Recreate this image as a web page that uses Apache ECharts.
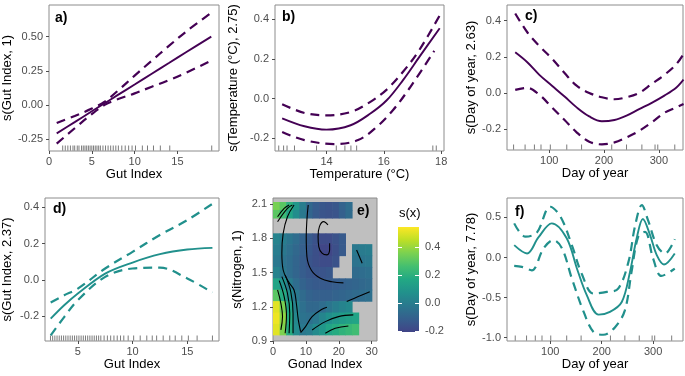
<!DOCTYPE html>
<html lang="en">
<head>
<meta charset="UTF-8" />
<title>GAM partial effects</title>
<script src="https://cdn.jsdelivr.net/npm/echarts@6/dist/echarts.min.js"></script>
<style>
  html, body { margin: 0; padding: 0; background: #fff; }
  #main { width: 685px; height: 376px; }
</style>
</head>
<body>
<div id="main"></div>
<script>
// ---- a) Gut Index (purple) ----
var aX   = [0.9, 3, 5, 6.5, 8, 10, 12, 14, 16, 18.95];
var aFit = [-0.207, -0.125, -0.046, 0.013, 0.072, 0.15, 0.229, 0.307, 0.386, 0.5];
var aUp  = [-0.132, -0.08, -0.026, 0.025, 0.102, 0.215, 0.324, 0.432, 0.536, 0.675];
var aLo  = [-0.282, -0.17, -0.066, 0.001, 0.042, 0.085, 0.134, 0.182, 0.236, 0.325];
var aRug = [1.6, 1.9, 2.2, 2.5, 2.8, 3.0, 3.3, 3.5, 3.8, 4.0, 4.2, 4.4, 4.6, 4.8, 5.0, 5.2, 5.4, 5.6, 5.8, 6.0,
            6.3, 6.6, 6.9, 7.2, 7.5, 7.8, 8.1, 8.5, 8.9, 9.3, 9.7, 10.1, 10.9, 11.5, 12.2, 13.0, 14.1, 19.0];

// ---- b) Temperature (purple) ----
var bX   = [12.45, 13.23, 14.0, 14.84, 15.53, 16.1, 16.67, 17.24, 17.95];
var bFit = [-0.10, -0.14, -0.157, -0.135, -0.076, -0.009, 0.093, 0.21, 0.355];
var bUpX = [12.45, 13.23, 14.0, 14.84, 15.53, 16.1, 16.67, 17.24, 17.99];
var bUp  = [-0.029, -0.073, -0.085, -0.068, -0.017, 0.045, 0.135, 0.245, 0.43];
var bLoX = [12.45, 13.23, 14.26, 15.1, 15.76, 16.33, 16.9, 17.76];
var bLo  = [-0.169, -0.21, -0.23, -0.21, -0.142, -0.057, 0.053, 0.24];
var bRug = [12.33, 12.5, 12.62, 12.88, 13.65, 14.34, 14.64, 14.85, 15.05, 17.71, 17.83];

// ---- c) Day of year (purple) ----
var cX   = [38, 60, 82, 105, 128, 150, 173, 196, 219, 241, 264, 287, 310, 332, 345];
var cFit = [0.225, 0.17, 0.10, 0.04, -0.02, -0.08, -0.13, -0.157, -0.15, -0.126, -0.09, -0.055, -0.015, 0.03, 0.074];
var cUp  = [0.44, 0.336, 0.26, 0.19, 0.11, 0.04, 0.0, -0.024, -0.035, -0.024, 0.0, 0.05, 0.1, 0.16, 0.216];
var cLo  = [0.017, 0.028, -0.01, -0.08, -0.15, -0.218, -0.27, -0.285, -0.274, -0.246, -0.21, -0.163, -0.11, -0.08, -0.061];
var cRug = [35, 56, 73, 85, 102, 132, 159, 214, 241, 269, 293, 298, 329];

// ---- d) Gut Index (teal) ----
var dX   = [2.52, 3.75, 5, 7.5, 10, 12.5, 15, 17.3];
var dFit = [-0.214, -0.14, -0.075, 0.035, 0.096, 0.142, 0.168, 0.177];
var dUp  = [-0.125, -0.085, -0.048, 0.063, 0.155, 0.248, 0.33, 0.42];
var dLo  = [-0.306, -0.205, -0.112, 0.017, 0.063, 0.068, 0.008, -0.07];
var dRug = [2.5, 2.7, 2.9, 3.1, 3.3, 3.5, 3.7, 3.9, 4.1, 4.3, 4.5, 4.7, 4.9, 5.1, 5.3, 5.5, 5.7, 5.9, 6.1, 6.3,
            6.5, 6.7, 6.9, 7.1, 7.4, 7.7, 8.0, 8.3, 8.6, 8.9, 9.2, 9.6, 10.1, 10.7, 11.3, 11.8, 12.2, 12.8,
            13.4, 13.9, 14.5, 15.1, 15.9, 17.3];

// ---- e) Gonad Index x Nitrogen surface ----
// columns: Gonad Index cells 0-2, 2-4, ... 30-32 ; rows between the Nitrogen edges below
var eColStart = 0, eColStep = 2;
var eRowEdges = [2.12, 2.05, 1.98, 1.845, 1.75, 1.65, 1.55, 1.45, 1.35, 1.25, 1.15, 1.05, 0.955];
var eGrid = [
  [0.35, 0.30, 0.20, 0.10, 0.00, -0.08, -0.12, -0.14, -0.15, -0.14, -0.10, -0.06, null, null, null, null],
  [0.30, 0.24, 0.15, 0.06, -0.02, -0.09, -0.13, -0.15, -0.16, -0.15, -0.11, -0.07, null, null, null, null],
  [null, null, null, null, null, null, null, null, null, null, null, null, null, null, null, null],
  [0.02, 0.00, -0.03, -0.06, -0.10, -0.13, -0.16, -0.18, -0.18, -0.16, -0.13, null, null, null, null, null],
  [0.00, -0.02, -0.05, -0.08, -0.11, -0.14, -0.17, -0.20, -0.20, -0.17, -0.13, null, -0.02, -0.01, 0.00, null],
  [-0.02, -0.04, -0.06, -0.09, -0.12, -0.15, -0.17, -0.18, -0.18, -0.16, null, null, -0.04, -0.03, -0.02, null],
  [0.02, -0.02, -0.06, -0.09, -0.12, -0.14, -0.15, -0.15, -0.14, null, null, null, -0.07, -0.06, -0.05, null],
  [0.15, 0.08, 0.00, -0.06, -0.10, -0.12, -0.13, -0.13, -0.13, -0.12, -0.11, -0.10, -0.09, -0.08, -0.07, null],
  [0.30, 0.18, 0.07, -0.02, -0.07, -0.10, -0.11, -0.11, -0.11, -0.10, -0.09, -0.08, -0.07, -0.06, -0.05, null],
  [0.50, 0.35, 0.15, 0.02, -0.05, -0.08, -0.08, -0.06, -0.03, 0.00, 0.02, 0.04, null, null, null, null],
  [0.52, 0.38, 0.18, 0.04, -0.04, -0.05, -0.02, 0.03, 0.07, 0.10, 0.12, 0.14, 0.15, null, null, null],
  [0.50, 0.36, 0.18, 0.05, -0.02, 0.00, 0.05, 0.10, 0.15, 0.18, 0.21, 0.23, 0.25, null, null, null]
];
var eContours = [
  [[16.7, 1.918], [15.4, 1.948], [14.1, 1.904], [13.7, 1.817], [13.9, 1.729], [14.9, 1.671], [16.4, 1.656], [17.2, 1.70], [17.2, 1.758]],
  [[10.7, 2.094], [10.3, 1.962], [10.1, 1.817], [10.3, 1.641], [11.7, 1.518], [14.4, 1.45], [17.9, 1.42], [21.4, 1.41]],
  [[6.39, 2.094], [4.39, 1.991], [3.09, 1.845], [2.69, 1.67], [3.09, 1.523], [4.69, 1.421], [6.39, 1.348], [7.09, 1.231], [7.69, 1.085], [8.39, 0.982]],
  [[8.39, 0.974], [9.89, 1.026], [11.89, 1.114], [14.89, 1.178], [16.39, 1.196]],
  [[1.39, 1.348], [2.39, 1.231], [2.89, 1.114], [2.39, 0.997]],
  [[1.89, 1.43], [3.39, 1.29], [4.09, 1.129], [3.69, 0.968]],
  [[2.69, 1.465], [4.39, 1.319], [5.09, 1.143], [4.89, 0.968]],
  [[3.69, 1.48], [5.39, 1.334], [6.09, 1.143], [6.09, 0.968]],
  [[1.39, 1.991], [3.39, 2.064], [4.89, 2.094]],
  [[1.39, 1.947], [4.39, 2.064], [5.89, 2.094]],
  [[25.4, 1.699], [27.1, 1.582]],
  [[22.4, 1.246], [25.9, 1.29], [29.4, 1.333]],
  [[11.9, 0.997], [15.9, 1.07], [19.9, 1.114], [24.4, 1.129]],
  [[15.9, 0.968], [18.9, 1.012], [22.9, 1.032]]
];
var eScale = [-0.207, 0.543];

// ---- f) Day of year (teal) ----
var fFitX = [30, 55, 77, 103, 132, 152, 171, 194, 216, 239, 255, 268, 280, 294, 307, 321, 342];
var fFit  = [0.154, 0.05, 0.25, 0.426, 0.24, -0.14, -0.47, -0.714, -0.68, -0.556, -0.18, 0.24, 0.48, 0.28, 0.03, -0.088, 0.05];
var fUpX  = [30, 52, 74, 100, 120, 142, 161, 184, 210, 232, 252, 265, 278, 290, 307, 323, 342];
var fUp   = [0.426, 0.26, 0.31, 0.634, 0.51, 0.154, -0.2, -0.45, -0.43, -0.39, -0.055, 0.40, 0.655, 0.467, 0.154, 0.05, 0.23];
var fLoX  = [30, 45, 64, 87, 106, 123, 142, 165, 184, 203, 226, 245, 258, 271, 284, 300, 316, 342];
var fLo   = [-0.105, -0.117, -0.16, 0.113, 0.217, 0.113, -0.263, -0.68, -0.93, -0.965, -0.87, -0.66, -0.18, 0.26, 0.32, -0.013, -0.23, -0.14];
var fRug  = [32, 54, 71, 84, 101, 132, 160, 217, 245, 273, 298, 303, 336];

// tick labels
var aXTicks = [0, 5, 10, 15],   aYTicks = [-0.25, 0, 0.25, 0.5];
var bXTicks = [14, 16, 18],     bYTicks = [-0.2, 0, 0.2, 0.4];
var cXTicks = [100, 200, 300],  cYTicks = [-0.2, 0, 0.2, 0.4];
var dXTicks = [5, 10, 15],      dYTicks = [-0.2, 0, 0.2, 0.4];
var eXTicks = [0, 10, 20, 30],  eYTicks = [0.9, 1.2, 1.5, 1.8, 2.1];
var fXTicks = [100, 200, 300],  fYTicks = [-1, -0.5, 0, 0.5];
var barTicks = [-0.2, 0, 0.2, 0.4];

var FONT = '"Liberation Sans", Arial, sans-serif';
var PURPLE = '#440154', TEAL = '#21908c';
// viridis, upper part of the range (colour bar starts at blue-purple)
var VIRIDIS = ['#414487', '#355f8d', '#2a788e', '#21918c', '#22a884', '#44bf70', '#7ad151', '#bddf26', '#fde725'];

var chart = echarts.init(document.getElementById('main'));

var grids = [
  { left: 49, top: 5, width: 170, height: 146 },
  { left: 275, top: 5, width: 169, height: 146 },
  { left: 507, top: 5, width: 176, height: 145 },
  { left: 44, top: 198, width: 175, height: 143 },
  { left: 273, top: 198, width: 104, height: 143, backgroundColor: '#bfbfbf' },
  { left: 507, top: 198, width: 176, height: 143 },
  { left: 398, top: 227, width: 21, height: 105, show: false } // colour bar
].map(function (g) {
  return Object.assign({ show: true, borderColor: '#8c8c8c', borderWidth: 1 }, g);
});

function axis(gi, min, max, ticks, dec, name, gap) {
  return {
    type: 'value', gridIndex: gi, min: min, max: max,
    name: name, nameLocation: 'middle', nameGap: gap,
    nameTextStyle: { color: '#000', fontSize: 13, fontFamily: FONT },
    axisLine: { show: false, onZero: false },
    splitLine: { show: false },
    axisTick: { show: true, length: 3, lineStyle: { color: '#4d4d4d' }, customValues: ticks },
    axisLabel: {
      color: '#4d4d4d', fontSize: 11, fontFamily: FONT, margin: 5, customValues: ticks,
      formatter: function (v) { return v.toFixed(dec); }
    }
  };
}

var yMins = [-0.336, -0.265, -0.316, -0.337, 0.9, -1.043];

var xAxes = [
  axis(0, 0, 19.85, aXTicks, 0, 'Gut Index', 17),
  axis(1, 12.2, 18.1, bXTicks, 0, 'Temperature (\u00B0C)', 17),
  axis(2, 23, 344, cXTicks, 0, 'Day of year', 16),
  axis(3, 2.0, 17.9, dXTicks, 0, 'Gut Index', 17),
  axis(4, 0, 31.6, eXTicks, 0, 'Gonad Index', 17),
  axis(5, 16, 358, fXTicks, 0, 'Day of year', 17),
  { type: 'value', gridIndex: 6, min: 0, max: 1, show: false }
];
var yAxes = [
  axis(0, yMins[0], 0.731, aYTicks, 2, 's(Gut Index, 1)', 35),
  axis(1, yMins[1], 0.472, bYTicks, 1, 's(Temperature (\u00B0C), 2.75)', 35),
  axis(2, yMins[2], 0.487, cYTicks, 1, 's(Day of year, 2.63)', 29),
  axis(3, yMins[3], 0.452, dYTicks, 1, 's(Gut Index, 2.37)', 31),
  axis(4, yMins[4], 2.155, eYTicks, 1, 's(Nitrogen, 1)', 29),
  axis(5, yMins[5], 0.743, fYTicks, 1, 's(Day of year, 7.78)', 27)
];
yAxes.forEach(function (y) { y.axisLabel.margin = 6; });
// colour bar axes (white inner ticks on both sides, labels on the right)
yAxes.push({
  type: 'value', gridIndex: 6, min: eScale[0], max: eScale[1], position: 'right', z: 10,
  axisLine: { show: false, onZero: false }, splitLine: { show: false },
  axisTick: { inside: true, length: 4, lineStyle: { color: '#fff' }, customValues: barTicks },
  axisLabel: { color: '#4d4d4d', fontSize: 11, fontFamily: FONT, margin: 6, customValues: barTicks,
    formatter: function (v) { return v.toFixed(1); } }
});
yAxes.push({
  type: 'value', gridIndex: 6, min: eScale[0], max: eScale[1], position: 'left', z: 10,
  axisLine: { show: false, onZero: false }, splitLine: { show: false }, axisLabel: { show: false },
  axisTick: { inside: true, length: 4, lineStyle: { color: '#fff' }, customValues: barTicks }
});

function zip(xs, ys) { return xs.map(function (x, i) { return [x, ys[i]]; }); }

function curve(gi, xs, ys, color, dashed) {
  return {
    type: 'line', xAxisIndex: gi, yAxisIndex: gi, data: zip(xs, ys),
    showSymbol: false, smooth: 0.35, silent: true, z: 3,
    lineStyle: { color: color, width: dashed ? 2.2 : 1.9, type: dashed ? [9, 6] : 'solid', cap: 'butt' }
  };
}

function rug(gi, vals) {
  return {
    type: 'scatter', xAxisIndex: gi, yAxisIndex: gi, silent: true, z: 2,
    data: vals.map(function (v) { return [v, yMins[gi]]; }),
    symbol: 'rect', symbolSize: [1, 5], symbolOffset: [0, -3],
    itemStyle: { color: 'rgba(0,0,0,0.65)' }
  };
}

// surface cells for panel e
var eCells = [];
eGrid.forEach(function (row, r) {
  row.forEach(function (v, c) {
    if (v !== null) {
      var x0 = eColStart + c * eColStep;
      eCells.push([x0, x0 + eColStep, eRowEdges[r + 1], eRowEdges[r], v]);
    }
  });
});

var series = [
  rug(0, aRug),
  curve(0, aX, aFit, PURPLE, false), curve(0, aX, aUp, PURPLE, true), curve(0, aX, aLo, PURPLE, true),
  rug(1, bRug),
  curve(1, bX, bFit, PURPLE, false), curve(1, bUpX, bUp, PURPLE, true), curve(1, bLoX, bLo, PURPLE, true),
  rug(2, cRug),
  curve(2, cX, cFit, PURPLE, false), curve(2, cX, cUp, PURPLE, true), curve(2, cX, cLo, PURPLE, true),
  rug(3, dRug),
  curve(3, dX, dFit, TEAL, false), curve(3, dX, dUp, TEAL, true), curve(3, dX, dLo, TEAL, true),
  rug(5, fRug),
  curve(5, fFitX, fFit, TEAL, false), curve(5, fUpX, fUp, TEAL, true), curve(5, fLoX, fLo, TEAL, true)
];

var heatIndex = series.length;
series.push({
  type: 'custom', xAxisIndex: 4, yAxisIndex: 4, data: eCells, clip: true, silent: true, z: 1,
  encode: { x: [0, 1], y: [2, 3] },
  renderItem: function (params, api) {
    var p0 = api.coord([api.value(0), api.value(3)]);
    var p1 = api.coord([api.value(1), api.value(2)]);
    return {
      type: 'rect',
      shape: { x: p0[0], y: p0[1], width: p1[0] - p0[0] + 0.6, height: p1[1] - p0[1] + 0.6 },
      style: { fill: api.visual('color') }
    };
  }
});

eContours.forEach(function (line) {
  series.push({
    type: 'line', xAxisIndex: 4, yAxisIndex: 4, data: line, clip: true,
    showSymbol: false, smooth: 0.4, silent: true, z: 4,
    lineStyle: { color: '#000', width: 1.1 }
  });
});

// colour bar
series.push({
  type: 'custom', xAxisIndex: 6, yAxisIndex: 6, data: [[0.5, 0]], silent: true, z: 1,
  renderItem: function (params, api) {
    var cs = params.coordSys;
    var stops = VIRIDIS.map(function (c, i) { return { offset: i / (VIRIDIS.length - 1), color: c }; });
    return {
      type: 'rect',
      shape: { x: cs.x, y: cs.y, width: cs.width, height: cs.height },
      style: { fill: new echarts.graphic.LinearGradient(0, 1, 0, 0, stops) }
    };
  }
});

function tag(text, left, top) {
  return { type: 'text', left: left, top: top, z: 20,
    style: { text: text, font: 'bold 14px ' + FONT, fill: '#000' } };
}

chart.setOption({
  animation: false,
  grid: grids,
  xAxis: xAxes,
  yAxis: yAxes,
  visualMap: {
    type: 'continuous', show: false, seriesIndex: heatIndex, dimension: 4,
    min: eScale[0], max: eScale[1], inRange: { color: VIRIDIS }
  },
  graphic: [
    tag('a)', 55, 11), tag('b)', 282, 10), tag('c)', 525, 9),
    tag('d)', 53, 202), tag('e)', 357, 204), tag('f)', 515, 205),
    { type: 'text', left: 399, top: 207, style: { text: 's(x)', font: '13px ' + FONT, fill: '#000' } }
  ],
  series: series
});
</script>
</body>
</html>
